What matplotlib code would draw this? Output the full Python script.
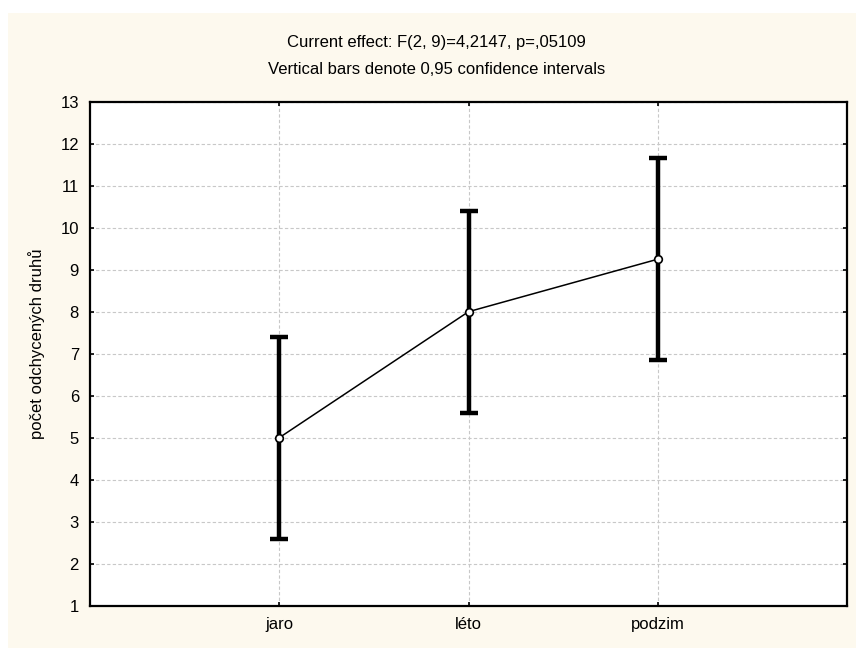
import matplotlib
matplotlib.use("Agg")
import matplotlib.pyplot as plt

# Hodnoty (průměry a 95% intervaly spolehlivosti)
seasons = ["jaro", "léto", "podzim"]
means = [5.0, 8.0, 9.25]
ci_low = [2.595, 5.595, 6.845]
ci_high = [7.405, 10.405, 11.655]
y_ticks = list(range(1, 14))

title_1 = "Current effect: F(2, 9)=4,2147, p=,05109"
title_2 = "Vertical bars denote 0,95 confidence intervals"
y_label = "počet odchycených druhů"

plt.rcParams["font.family"] = ["Liberation Sans", "DejaVu Sans"]

fig = plt.figure(figsize=(8.56, 6.48), dpi=100)
fig.patch.set_facecolor("white")
# krémové pozadí rámu
frame = plt.Rectangle((8 / 856, 0), 1, 1 - 13 / 648, transform=fig.transFigure,
                      facecolor="#fdf9ee", edgecolor="none", zorder=-10)
fig.add_artist(frame)

ax = fig.add_axes([90 / 856, 1 - 605.7 / 648, (847 - 90) / 856, (605.7 - 101.7) / 648])
ax.set_facecolor("white")

x = list(range(1, len(seasons) + 1))
err_low = [m - lo for m, lo in zip(means, ci_low)]
err_high = [hi - m for m, hi in zip(means, ci_high)]

ax.errorbar(x, means, yerr=[err_low, err_high], fmt="none", ecolor="black",
            elinewidth=3.2, capsize=6.5, capthick=3.2, zorder=3)
ax.plot(x, means, color="black", linewidth=1.1, marker="o", markersize=5.5,
        markerfacecolor="white", markeredgecolor="black", markeredgewidth=1.2, zorder=4)

ax.set_xlim(0, 4)
ax.set_ylim(1, 13)
ax.set_xticks(x)
ax.set_xticklabels(seasons)
ax.set_yticks(y_ticks)

ax.grid(True, color="#c8c8c8", linestyle=(0, (3, 2)), linewidth=0.8)
ax.set_axisbelow(True)
ax.tick_params(direction="in", length=3, width=1.2, top=True, right=True,
               labelsize=12, pad=8)
for s in ax.spines.values():
    s.set_linewidth(1.6)

ax.set_ylabel(y_label, fontsize=12)
ax.yaxis.set_label_coords(-0.059, 0.52)

fig.text(0.51, 1 - 42 / 648, title_1, ha="center", va="center", fontsize=12)
fig.text(0.51, 1 - 69 / 648, title_2, ha="center", va="center", fontsize=12)

fig.savefig("out.png", dpi=100)
